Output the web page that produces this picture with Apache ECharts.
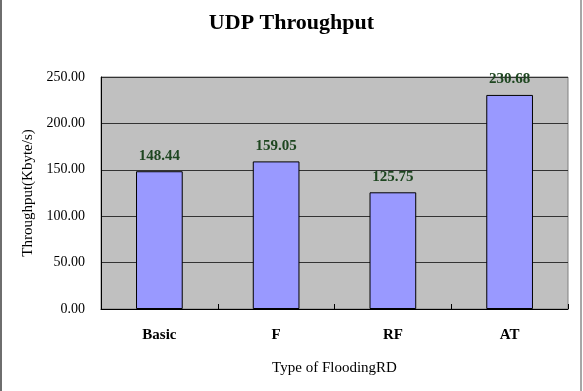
<!DOCTYPE html>
<html>
<head>
<meta charset="utf-8">
<script src="https://cdn.jsdelivr.net/npm/echarts@6/dist/echarts.min.js"></script>
<style>
html,body{margin:0;padding:0;background:#fff;}
#chart{width:583px;height:391px;}
</style>
</head>
<body>
<div id="chart"></div>
<script>
var categories = ['Basic', 'F', 'RF', 'AT'];
var throughput = [148.44, 159.05, 125.75, 230.68];
var yTicks = [0, 50, 100, 150, 200, 250];

var serif = '"Liberation Serif", "Times New Roman", serif';
var chart = echarts.init(document.getElementById('chart'));
chart.setOption({
  animation: false,
  backgroundColor: '#ffffff',
  title: {
    text: 'UDP Throughput',
    left: 'center',
    top: 7,
    textStyle: { fontFamily: serif, fontSize: 22, fontWeight: 'bold', color: '#000' }
  },
  grid: {
    left: 101, right: 15, top: 77, bottom: 82,
    show: true, backgroundColor: '#c0c0c0', borderColor: '#808080', borderWidth: 1
  },
  xAxis: {
    type: 'category',
    data: categories,
    name: 'Type of FloodingRD',
    nameLocation: 'middle',
    nameGap: 52,
    nameTextStyle: { fontFamily: serif, fontSize: 15, color: '#000' },
    axisLine: { lineStyle: { color: '#000', width: 1 } },
    axisTick: { show: true, inside: true, length: 5, lineStyle: { color: '#000' } },
    axisLabel: { fontFamily: serif, fontSize: 15, fontWeight: 'bold', color: '#000', margin: 19 }
  },
  yAxis: {
    type: 'value',
    min: yTicks[0],
    max: yTicks[yTicks.length - 1],
    interval: 50,
    name: 'Throughput(Kbyte/s)',
    nameLocation: 'middle',
    nameGap: 64,
    nameTextStyle: { fontFamily: serif, fontSize: 15, color: '#000' },
    axisLine: { show: true, lineStyle: { color: '#000', width: 1 } },
    axisTick: { show: false },
    axisLabel: {
      fontFamily: serif, fontSize: 14, color: '#000', margin: 16,
      formatter: function (v) { return v.toFixed(2); }
    },
    splitLine: { show: true, lineStyle: { color: '#333', width: 1 } }
  },
  series: [{
    type: 'bar',
    data: throughput,
    barWidth: '40%',
    itemStyle: { color: '#9999ff', borderColor: '#000', borderWidth: 1 },
    label: {
      show: true, position: 'top', distance: 8,
      fontFamily: serif, fontSize: 15, fontWeight: 'bold', color: '#1e4620',
      formatter: function (p) { return p.value.toFixed(2); }
    }
  }],
  graphic: [
    { type: 'line', shape: { x1: 1, y1: 0, x2: 1, y2: 391 }, style: { stroke: '#6e6e6e', lineWidth: 2 } },
    { type: 'line', shape: { x1: 581, y1: 0, x2: 581, y2: 391 }, style: { stroke: '#8a8a8a', lineWidth: 1.5 } }
  ]
});
</script>
</body>
</html>
